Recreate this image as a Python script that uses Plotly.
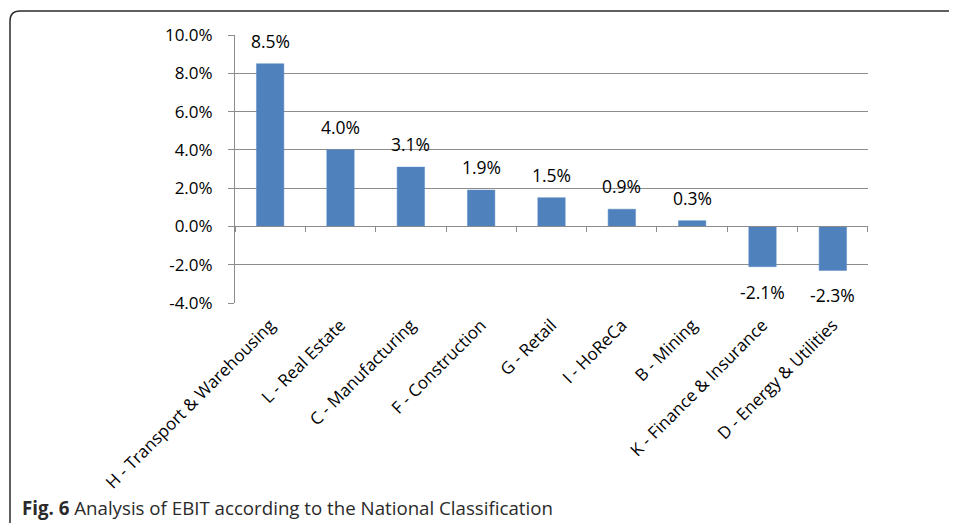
import plotly.graph_objs as go

# EBIT by national classification sector
sectors = ["H - Transport & Warehousing", "L - Real Estate", "C - Manufacturing",
           "F - Construction", "G - Retail", "I - HoReCa", "B - Mining",
           "K - Finance & Insurance", "D - Energy & Utilities"]
ebit = [0.085, 0.040, 0.031, 0.019, 0.015, 0.009, 0.003, -0.021, -0.023]
y_ticks = [-0.04, -0.02, 0.0, 0.02, 0.04, 0.06, 0.08, 0.10]

y_min, y_max = -0.04, 0.10
caption = "<b>Fig. 6</b> Analysis of EBIT according to the National Classification"

# page body has an 8px margin, so the figure is drawn from (8, 8)
OFF = 8
W, H = 957 - OFF, 523 - OFF
ml, mr, mt, mb = 235 - OFF, 89, 35 - OFF, 220
pw, ph = W - ml - mr, H - mt - mb


def px(x):
  # page pixel -> paper x
  return (x - OFF - ml) / pw


def py(y):
  # page pixel -> paper y
  return (H - mb - (y - OFF)) / ph


bar_color = "#4f81bd"
grid_color = "#8c8c8c"
font = "Open Sans"

fig = go.Figure()

fig.add_trace(go.Bar(
  x=sectors,
  y=ebit,
  marker=dict(color=bar_color, line=dict(color="#5b8cc6", width=0.5)),
  width=0.39,
  hoverinfo="skip",
))

# invisible trace so the zero axis (with its boundary ticks) gets categories
fig.add_trace(go.Scatter(
  x=sectors,
  y=[0] * len(sectors),
  xaxis="x2",
  mode="markers",
  marker=dict(opacity=0),
  hoverinfo="skip",
  showlegend=False,
))

# value labels above / below the bars
annotations = []
for s, v in zip(sectors, ebit):
  annotations.append(dict(
    x=s, y=v, xref="x", yref="y",
    text=f"{v:.1%}",
    showarrow=False,
    yanchor="bottom" if v >= 0 else "top",
    yshift=9 if v >= 0 else -11,
    font=dict(family=font, size=17.5, color="#000000"),
  ))

annotations.append(dict(
  x=px(20), y=py(507), xref="paper", yref="paper",
  xanchor="left", yanchor="middle",
  text=caption, showarrow=False,
  font=dict(family=font, size=18.7, color="#2a2a2a"),
))

# figure frame, rounded top-left corner, running off the page right and bottom
r = 10
x0, y0 = 10, 11
frame = (f"M {px(x0)},{py(H + 40)} L {px(x0)},{py(y0 + r)} "
         f"Q {px(x0)},{py(y0)} {px(x0 + r)},{py(y0)} L {px(W + 40)},{py(y0)}")

fig.update_layout(
  width=W,
  height=H,
  margin=dict(l=ml, r=mr, t=mt, b=mb),
  plot_bgcolor="white",
  paper_bgcolor="white",
  showlegend=False,
  font=dict(family=font, size=16, color="#000000"),
  xaxis=dict(
    type="category",
    categoryorder="array",
    categoryarray=sectors,
    tickangle=-45,
    tickfont=dict(size=17),
    ticklabelstandoff=8,
    showgrid=False,
    showline=False,
    ticks="",
    zeroline=False,
  ),
  xaxis2=dict(
    type="category",
    categoryorder="array",
    categoryarray=sectors,
    overlaying="x",
    anchor="free",
    position=(0 - y_min) / (y_max - y_min),
    showticklabels=False,
    showgrid=False,
    showline=True,
    linecolor=grid_color,
    linewidth=1,
    ticks="outside",
    tickson="boundaries",
    ticklen=5,
    tickcolor=grid_color,
    zeroline=False,
  ),
  yaxis=dict(
    range=[y_min, y_max],
    tickvals=y_ticks,
    ticktext=[f"{t:.1%}" for t in y_ticks],
    showgrid=True,
    gridcolor=grid_color,
    gridwidth=1,
    showline=True,
    linecolor=grid_color,
    linewidth=1,
    ticks="outside",
    ticklen=6,
    tickcolor=grid_color,
    ticklabelstandoff=12,
    zeroline=False,
    tickfont=dict(size=17),
  ),
  annotations=annotations,
  shapes=[dict(type="path", path=frame, xref="paper", yref="paper",
               line=dict(color="#2b2b2b", width=1.5), layer="above")],
)

fig.write_html("out.html")
